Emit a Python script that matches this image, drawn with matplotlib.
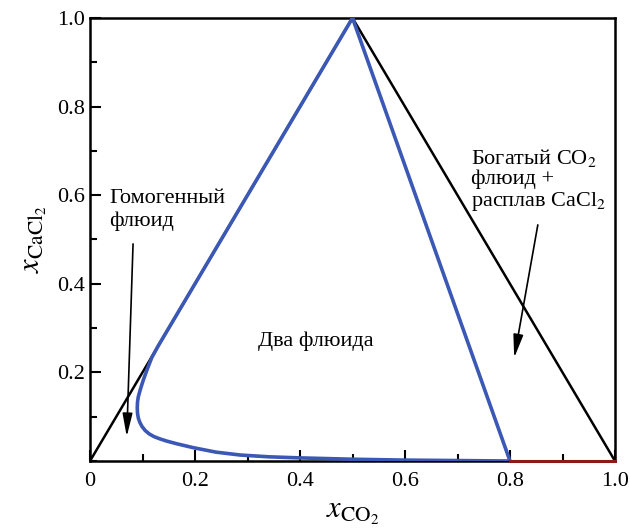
import numpy as np
import matplotlib.pyplot as plt
from matplotlib.ticker import MultipleLocator

plt.rcParams['font.family'] = ['Liberation Serif', 'DejaVu Serif']
plt.rcParams['mathtext.fontset'] = 'stix'

# треугольник составов
tri_x = [0.0, 0.5, 1.0]
tri_y = [0.0, 1.0, 0.0]

# граница двухфазной области
bin_x = [0.5, 0.40, 0.30, 0.20, 0.130, 0.1175, 0.109, 0.1016, 0.096, 0.092,
         0.0905, 0.090, 0.0905, 0.092, 0.095, 0.099, 0.105, 0.113, 0.122,
         0.133, 0.146, 0.165, 0.197, 0.240, 0.286, 0.34, 0.40, 0.50, 0.60,
         0.70, 0.80, 0.5]
bin_y = [1.0, 0.80, 0.60, 0.40, 0.260, 0.233, 0.207, 0.183, 0.162, 0.145,
         0.133, 0.120, 0.108, 0.097, 0.087, 0.078, 0.069, 0.061, 0.055,
         0.050, 0.045, 0.039, 0.030, 0.020, 0.0135, 0.0095, 0.007, 0.004,
         0.002, 0.001, 0.0, 1.0]

# линия расплава CaCl2
melt_x = [0.8, 1.0]
melt_y = [0.0, 0.0]

fig = plt.figure(figsize=(6.3, 5.31), dpi=100)
ax = fig.add_axes([90 / 630, 70 / 531, 525 / 630, 443 / 531])

ax.plot(tri_x, tri_y, color='black', lw=1.8, zorder=2)
ax.plot(bin_x, bin_y, color='#3b58b4', lw=2.6, zorder=3,
        solid_joinstyle='round')
ax.plot(melt_x, melt_y, color='#8b1a1a', lw=2.2, zorder=4, clip_on=False)

ax.set_xlim(0, 1)
ax.set_ylim(0, 1)
ax.set_xticks([0, 0.2, 0.4, 0.6, 0.8, 1.0])
ax.set_xticklabels(['0', '0.2', '0.4', '0.6', '0.8', '1.0'])
ax.set_yticks([0.2, 0.4, 0.6, 0.8, 1.0])
ax.set_yticklabels(['0.2', '0.4', '0.6', '0.8', '1.0'])
ax.xaxis.set_minor_locator(MultipleLocator(0.1))
ax.yaxis.set_minor_locator(MultipleLocator(0.1))
ax.tick_params(which='both', direction='in', top=False, right=False,
               labelsize=16, width=1.5)
ax.tick_params(which='major', length=8)
ax.tick_params(which='minor', length=5)
ax.tick_params(axis='x', pad=8)
for s in ax.spines.values():
    s.set_linewidth(1.8)

ax.set_xlabel(r'$x_{\mathrm{CO_2}}$', fontsize=22, labelpad=5)
ax.set_ylabel(r'$x_{\mathrm{CaCl_2}}$', fontsize=22, labelpad=6)

ax.text(0.036, 0.567, 'Гомогенный\nфлюид', fontsize=16, va='center',
        ha='left', linespacing=1.25)
ax.text(0.43, 0.27, 'Два флюида', fontsize=16, ha='center', va='center')
ax.text(0.725, 0.635, 'Богатый CO$_2$\nфлюид +\nрасплав CaCl$_2$',
        fontsize=16, ha='left', va='center', linespacing=1.05)

arrow = dict(arrowstyle='-|>,head_length=1.4,head_width=0.3', color='black',
             lw=1.2, mutation_scale=10, shrinkA=0, shrinkB=0)
ax.annotate('', xy=(0.07, 0.055), xytext=(0.082, 0.49), arrowprops=arrow)
ax.annotate('', xy=(0.808, 0.233), xytext=(0.853, 0.533), arrowprops=arrow)

fig.savefig('out.png', dpi=100)
